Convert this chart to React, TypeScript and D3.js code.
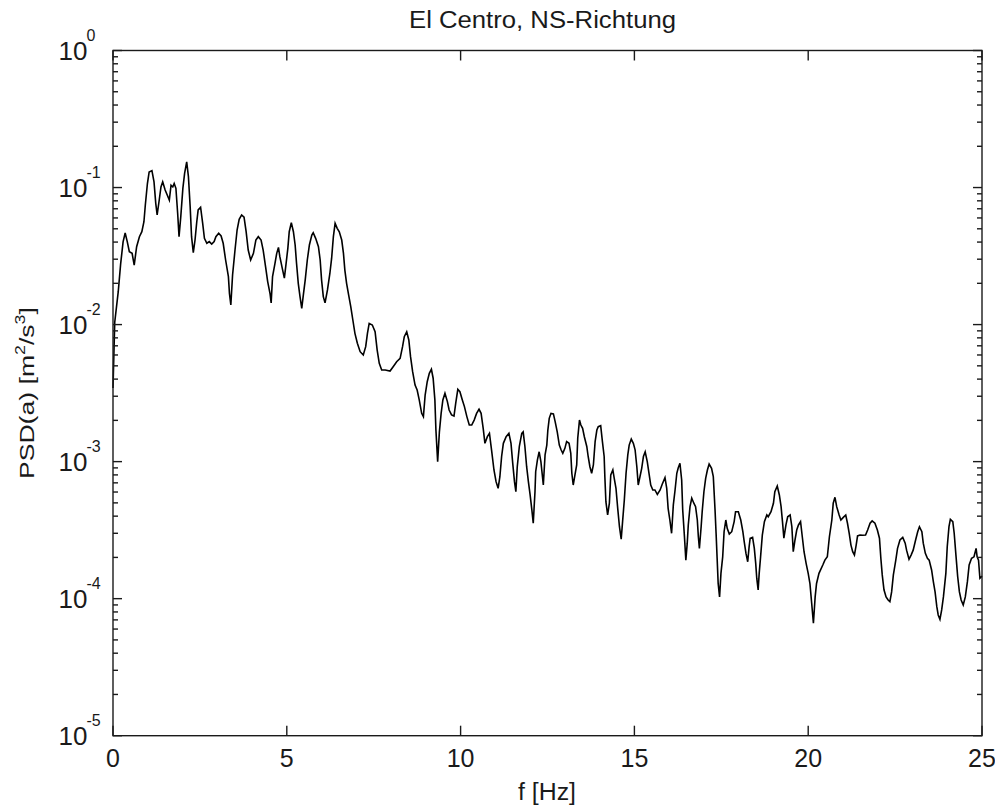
import React from 'react';
import * as d3 from 'd3';

const title = 'El Centro, NS-Richtung';
const xLabel = 'f [Hz]';
const xTicks = [0, 5, 10, 15, 20, 25];
const yDecadeExps = [-5, -4, -3, -2, -1, 0];
const minorMantissas = [2, 3, 4, 5, 6, 7, 8, 9];

const freq = [
  0, 0.05, 0.15, 0.22, 0.29, 0.35, 0.41, 0.47, 0.55, 0.61, 0.68, 0.76, 0.83, 0.89, 0.93, 0.99, 1.04, 1.12, 1.18, 1.23,
  1.27, 1.33, 1.38, 1.43, 1.50, 1.56, 1.62, 1.67, 1.72, 1.76, 1.81, 1.86, 1.90, 1.95, 2.01, 2.06, 2.12, 2.17, 2.22, 2.26,
  2.31, 2.36, 2.41, 2.45, 2.52, 2.58, 2.63, 2.70, 2.77, 2.84, 2.91, 2.96, 3.04, 3.11, 3.17, 3.24, 3.32, 3.35, 3.39, 3.44,
  3.51, 3.57, 3.63, 3.70, 3.77, 3.83, 3.89, 3.96, 4.04, 4.11, 4.18, 4.26, 4.32, 4.39, 4.45, 4.52, 4.55, 4.59, 4.66, 4.71,
  4.76, 4.80, 4.87, 4.93, 4.98, 5.03, 5.07, 5.13, 5.19, 5.24, 5.28, 5.33, 5.38, 5.43, 5.47, 5.53, 5.59, 5.65, 5.72, 5.76,
  5.83, 5.91, 5.96, 6.00, 6.05, 6.10, 6.17, 6.24, 6.29, 6.34, 6.39, 6.45, 6.51, 6.58, 6.63, 6.67, 6.72, 6.78, 6.84, 6.90,
  6.96, 7.03, 7.11, 7.20, 7.27, 7.32, 7.37, 7.46, 7.54, 7.60, 7.66, 7.73, 7.83, 7.97, 8.06, 8.16, 8.26, 8.33, 8.38, 8.45,
  8.51, 8.56, 8.62, 8.69, 8.75, 8.81, 8.88, 8.93, 8.98, 9.04, 9.10, 9.16, 9.21, 9.26, 9.29, 9.34, 9.39, 9.44, 9.49, 9.55,
  9.62, 9.67, 9.74, 9.81, 9.86, 9.92, 9.98, 10.05, 10.11, 10.18, 10.25, 10.32, 10.39, 10.46, 10.53, 10.59, 10.65, 10.70, 10.77, 10.83,
  10.89, 10.96, 11.02, 11.08, 11.13, 11.18, 11.23, 11.31, 11.39, 11.45, 11.50, 11.55, 11.59, 11.63, 11.69, 11.76, 11.80, 11.85, 11.90, 11.95,
  12.00, 12.05, 12.09, 12.14, 12.16, 12.21, 12.26, 12.31, 12.35, 12.38, 12.43, 12.48, 12.51, 12.55, 12.60, 12.67, 12.72, 12.78, 12.84, 12.89,
  12.94, 13.00, 13.05, 13.12, 13.17, 13.20, 13.24, 13.29, 13.34, 13.37, 13.42, 13.46, 13.51, 13.56, 13.63, 13.67, 13.72, 13.77, 13.82, 13.87,
  13.92, 13.96, 14.03, 14.08, 14.13, 14.15, 14.18, 14.23, 14.28, 14.32, 14.38, 14.42, 14.47, 14.52, 14.57, 14.62, 14.66, 14.71, 14.76, 14.81,
  14.85, 14.91, 14.97, 15.02, 15.07, 15.11, 15.16, 15.21, 15.26, 15.31, 15.37, 15.42, 15.47, 15.53, 15.59, 15.66, 15.74, 15.80, 15.88, 15.93,
  15.97, 16.02, 16.07, 16.12, 16.17, 16.22, 16.26, 16.31, 16.36, 16.39, 16.44, 16.48, 16.52, 16.55, 16.60, 16.65, 16.71, 16.76, 16.81, 16.84,
  16.87, 16.92, 16.95, 17.00, 17.05, 17.10, 17.15, 17.22, 17.27, 17.32, 17.35, 17.38, 17.41, 17.45, 17.49, 17.54, 17.58, 17.63, 17.67, 17.73,
  17.80, 17.87, 17.91, 17.99, 18.06, 18.12, 18.16, 18.21, 18.26, 18.30, 18.33, 18.40, 18.45, 18.49, 18.52, 18.56, 18.59, 18.63, 18.68, 18.74,
  18.81, 18.85, 18.93, 19.00, 19.04, 19.11, 19.17, 19.22, 19.26, 19.30, 19.36, 19.41, 19.48, 19.53, 19.57, 19.62, 19.67, 19.72, 19.78, 19.83,
  19.88, 19.94, 20.00, 20.05, 20.10, 20.15, 20.20, 20.24, 20.31, 20.42, 20.48, 20.55, 20.61, 20.68, 20.72, 20.77, 20.82, 20.89, 20.94, 21.01,
  21.08, 21.13, 21.18, 21.23, 21.28, 21.33, 21.38, 21.42, 21.49, 21.57, 21.65, 21.71, 21.78, 21.84, 21.92, 21.99, 22.05, 22.09, 22.13, 22.18,
  22.24, 22.30, 22.35, 22.40, 22.45, 22.52, 22.57, 22.64, 22.72, 22.79, 22.83, 22.90, 22.96, 23.02, 23.09, 23.15, 23.20, 23.27, 23.31, 23.37,
  23.43, 23.48, 23.55, 23.60, 23.65, 23.70, 23.74, 23.79, 23.84, 23.89, 23.96, 24.00, 24.05, 24.09, 24.16, 24.20, 24.25, 24.30, 24.35, 24.40,
  24.46, 24.52, 24.58, 24.63, 24.70, 24.77, 24.83, 24.86, 24.90, 24.94, 25.00,
];

const psd = [
  3.44e-3, 1.04e-2, 1.73e-2, 2.77e-2, 4.01e-2, 4.66e-2, 4.03e-2, 3.40e-2, 3.31e-2, 2.72e-2, 3.70e-2, 4.38e-2, 4.76e-2, 5.63e-2, 7.46e-2, 0.107, 0.130, 0.133, 0.110, 7.67e-2,
  6.31e-2, 8.11e-2, 0.101, 0.110, 9.6e-2, 8.82e-2, 8.11e-2, 0.104, 0.101, 0.107, 9.87e-2, 6.49e-2, 4.38e-2, 6.13e-2, 9.87e-2, 0.127, 0.154, 0.120, 7.25e-2, 4.38e-2,
  3.35e-2, 4.14e-2, 5.63e-2, 6.86e-2, 7.18e-2, 5.48e-2, 4.26e-2, 3.92e-2, 4.03e-2, 3.87e-2, 4.03e-2, 4.38e-2, 4.64e-2, 4.43e-2, 3.92e-2, 2.96e-2, 2.24e-2, 1.69e-2, 1.39e-2, 2.30e-2,
  3.50e-2, 4.90e-2, 5.87e-2, 6.31e-2, 6.07e-2, 4.76e-2, 3.50e-2, 2.96e-2, 3.31e-2, 4.14e-2, 4.38e-2, 4.14e-2, 3.50e-2, 2.64e-2, 2.06e-2, 1.67e-2, 1.44e-2, 2.24e-2, 2.80e-2, 3.31e-2,
  3.66e-2, 3.13e-2, 2.57e-2, 2.18e-2, 2.80e-2, 3.60e-2, 4.76e-2, 5.54e-2, 4.76e-2, 3.81e-2, 2.80e-2, 2.00e-2, 1.60e-2, 1.31e-2, 1.60e-2, 2.12e-2, 2.96e-2, 3.81e-2, 4.50e-2, 4.68e-2,
  4.26e-2, 3.70e-2, 2.96e-2, 2.12e-2, 1.60e-2, 1.44e-2, 1.79e-2, 2.37e-2, 3.05e-2, 4.38e-2, 5.48e-2, 5.04e-2, 4.76e-2, 4.14e-2, 3.31e-2, 2.50e-2, 2.00e-2, 1.64e-2, 1.35e-2, 1.08e-2,
  8.63e-3, 7.30e-3, 6.34e-3, 6.00e-3, 6.90e-3, 8.63e-3, 1.02e-2, 9.93e-3, 8.87e-3, 6.52e-3, 5.22e-3, 4.66e-3, 4.66e-3, 4.58e-3, 4.93e-3, 5.36e-3, 5.67e-3, 6.90e-3, 8.16e-3, 8.87e-3,
  7.72e-3, 5.83e-3, 4.53e-3, 3.62e-3, 3.33e-3, 2.82e-3, 2.25e-3, 2.13e-3, 3.06e-3, 3.83e-3, 4.41e-3, 4.72e-3, 4.06e-3, 2.82e-3, 1.70e-3, 1.00e-3, 1.65e-3, 2.25e-3, 2.82e-3, 3.15e-3,
  2.74e-3, 2.38e-3, 2.19e-3, 2.15e-3, 2.67e-3, 3.37e-3, 3.24e-3, 2.82e-3, 2.52e-3, 2.13e-3, 1.85e-3, 1.85e-3, 2.01e-3, 2.25e-3, 2.41e-3, 2.25e-3, 1.75e-3, 1.36e-3, 1.52e-3, 1.61e-3,
  1.22e-3, 8.69e-4, 7.14e-4, 6.39e-4, 7.76e-4, 1.09e-3, 1.36e-3, 1.52e-3, 1.61e-3, 1.36e-3, 9.72e-4, 7.14e-4, 6.03e-4, 9.18e-4, 1.29e-3, 1.61e-3, 1.65e-3, 1.29e-3, 9.18e-4, 7.14e-4,
  5.71e-4, 4.44e-4, 3.55e-4, 6.03e-4, 8.44e-4, 1.03e-3, 1.18e-3, 1.00e-3, 7.99e-4, 6.75e-4, 1.12e-3, 1.32e-3, 1.70e-3, 2.07e-3, 2.25e-3, 2.23e-3, 1.96e-3, 1.65e-3, 1.32e-3, 1.22e-3,
  1.15e-3, 1.25e-3, 1.40e-3, 1.36e-3, 1.15e-3, 8.22e-4, 6.75e-4, 7.99e-4, 9.45e-4, 1.48e-3, 2.01e-3, 1.85e-3, 1.75e-3, 1.52e-3, 1.29e-3, 1.09e-3, 9.18e-4, 8.22e-4, 9.45e-4, 1.40e-3,
  1.70e-3, 1.80e-3, 1.83e-3, 1.40e-3, 1.09e-3, 7.76e-4, 5.10e-4, 4.08e-4, 4.97e-4, 7.99e-4, 8.69e-4, 7.55e-4, 6.39e-4, 4.56e-4, 3.35e-4, 2.72e-4, 3.65e-4, 5.25e-4, 8.22e-4, 1.12e-3,
  1.32e-3, 1.46e-3, 1.36e-3, 1.22e-3, 9.18e-4, 6.75e-4, 7.76e-4, 8.94e-4, 1.09e-3, 1.18e-3, 1.00e-3, 8.22e-4, 6.75e-4, 6.21e-4, 6.21e-4, 5.77e-4, 6.21e-4, 6.83e-4, 7.63e-4, 6.39e-4,
  4.56e-4, 3.75e-4, 3.00e-4, 4.83e-4, 6.21e-4, 8.22e-4, 8.98e-4, 9.72e-4, 7.34e-4, 4.44e-4, 2.83e-4, 1.91e-4, 2.54e-4, 3.45e-4, 4.69e-4, 5.40e-4, 4.97e-4, 4.69e-4, 3.75e-4, 2.83e-4,
  2.33e-4, 3.35e-4, 4.31e-4, 6.03e-4, 7.55e-4, 8.69e-4, 9.61e-4, 8.94e-4, 7.76e-4, 4.44e-4, 3.00e-4, 1.97e-4, 1.29e-4, 1.03e-4, 1.53e-4, 2.02e-4, 3.08e-4, 3.75e-4, 3.26e-4, 2.96e-4,
  3.08e-4, 3.65e-4, 4.31e-4, 4.31e-4, 3.75e-4, 3.08e-4, 2.60e-4, 2.14e-4, 1.86e-4, 2.39e-4, 2.76e-4, 2.80e-4, 2.33e-4, 1.81e-4, 1.41e-4, 1.16e-4, 1.53e-4, 2.02e-4, 2.91e-4, 3.65e-4,
  4.08e-4, 3.96e-4, 4.31e-4, 4.97e-4, 6.03e-4, 6.64e-4, 5.71e-4, 4.69e-4, 3.65e-4, 2.76e-4, 3.45e-4, 3.96e-4, 4.08e-4, 3.35e-4, 2.20e-4, 2.68e-4, 3.17e-4, 3.45e-4, 3.65e-4, 2.83e-4,
  2.20e-4, 1.81e-4, 1.53e-4, 1.29e-4, 9.25e-5, 6.61e-5, 1.03e-4, 1.29e-4, 1.53e-4, 1.76e-4, 1.91e-4, 2.02e-4, 2.83e-4, 3.75e-4, 4.97e-4, 5.49e-4, 4.69e-4, 4.08e-4, 3.75e-4, 3.92e-4,
  4.08e-4, 3.55e-4, 3.00e-4, 2.46e-4, 2.20e-4, 2.08e-4, 2.46e-4, 2.87e-4, 2.91e-4, 2.90e-4, 2.91e-4, 3.17e-4, 3.55e-4, 3.69e-4, 3.55e-4, 3.17e-4, 2.76e-4, 1.97e-4, 1.49e-4, 1.16e-4,
  1.03e-4, 9.78e-5, 9.50e-5, 1.12e-4, 1.49e-4, 1.91e-4, 2.33e-4, 2.68e-4, 2.80e-4, 2.54e-4, 2.26e-4, 1.94e-4, 2.08e-4, 2.26e-4, 2.68e-4, 3.08e-4, 3.35e-4, 3.08e-4, 2.54e-4, 2.14e-4,
  1.97e-4, 1.91e-4, 1.62e-4, 1.33e-4, 1.12e-4, 8.74e-5, 7.60e-5, 7.07e-5, 8.27e-5, 1.03e-4, 1.53e-4, 2.39e-4, 3.35e-4, 3.79e-4, 3.65e-4, 3.00e-4, 2.08e-4, 1.45e-4, 1.12e-4, 9.78e-5,
  8.99e-5, 1.03e-4, 1.33e-4, 1.76e-4, 1.97e-4, 2.02e-4, 2.33e-4, 2.02e-4, 1.91e-4, 1.41e-4, 1.46e-4,
];

const FONT = '"Liberation Sans", Arial, Helvetica, sans-serif';
const INK = '#1a1a1a';

export default function App() {
  const W = 995;
  const H = 805;
  const left = 113;
  const right = 982;
  const top = 50.5;
  const bottom = 735.7;

  const x = d3.scaleLinear().domain([0, 25]).range([left, right]);
  const y = d3.scaleLog().domain([1e-5, 1]).range([bottom, top]);

  const n = Math.min(freq.length, psd.length);
  const data = d3.range(n).map((i) => ({ f: freq[i], p: psd[i] }));
  const line = d3
    .line<{ f: number; p: number }>()
    .x((d) => x(d.f))
    .y((d) => y(d.p));

  const majorY = yDecadeExps.map((e) => Math.pow(10, e));
  const minorY: number[] = [];
  yDecadeExps.slice(0, -1).forEach((e) => {
    minorMantissas.forEach((m) => minorY.push(m * Math.pow(10, e)));
  });

  const majLenX = 10;
  const majLenY = 9;
  const minLen = 5;

  return (
    <svg
      width={W}
      height={H}
      style={{ position: 'absolute', left: 0, top: 0, background: '#ffffff' }}
      fontFamily={FONT}
    >
      <rect x={0} y={0} width={W} height={H} fill="#ffffff" />

      {/* data line */}
      <path d={line(data) || ''} fill="none" stroke="#000" strokeWidth={1.6} strokeLinejoin="miter" />

      {/* frame */}
      <rect x={left} y={top} width={right - left} height={bottom - top} fill="none" stroke={INK} strokeWidth={1.4} />

      {/* x ticks */}
      {xTicks.map((t) => (
        <g key={'xt' + t}>
          <line x1={x(t)} x2={x(t)} y1={bottom} y2={bottom - majLenX} stroke={INK} strokeWidth={1.4} />
          <line x1={x(t)} x2={x(t)} y1={top} y2={top + majLenX} stroke={INK} strokeWidth={1.4} />
          <text x={x(t)} y={767} textAnchor="middle" fontSize={25} fill={INK}>
            {t}
          </text>
        </g>
      ))}

      {/* y major ticks + labels */}
      {majorY.map((v, i) => (
        <g key={'ym' + i}>
          <line x1={left} x2={left + majLenY} y1={y(v)} y2={y(v)} stroke={INK} strokeWidth={1.4} />
          <line x1={right} x2={right - majLenY} y1={y(v)} y2={y(v)} stroke={INK} strokeWidth={1.4} />
          <text x={58.5} y={y(v) + 9} fontSize={26} fill={INK}>
            10
          </text>
          <text x={86.5} y={y(v) - 9.5} fontSize={16} fill={INK}>
            {String(yDecadeExps[i])}
          </text>
        </g>
      ))}

      {/* y minor ticks */}
      {minorY.map((v, i) => (
        <g key={'yn' + i}>
          <line x1={left} x2={left + minLen} y1={y(v)} y2={y(v)} stroke={INK} strokeWidth={1.4} />
          <line x1={right} x2={right - minLen} y1={y(v)} y2={y(v)} stroke={INK} strokeWidth={1.4} />
        </g>
      ))}

      {/* title */}
      <text
        x={542.5}
        y={28.3}
        textAnchor="middle"
        fontSize={23}
        fill={INK}
        textLength={267}
        lengthAdjust="spacingAndGlyphs"
      >
        {title}
      </text>

      {/* x label */}
      <text x={547} y={800} textAnchor="middle" fontSize={23} fill={INK} textLength={58} lengthAdjust="spacingAndGlyphs">
        {xLabel}
      </text>

      {/* y label */}
      <text
        transform={`translate(33.5, ${(top + bottom) / 2}) rotate(-90)`}
        textAnchor="middle"
        fontSize={21}
        fill={INK}
        textLength={172}
        lengthAdjust="spacingAndGlyphs"
      >
        <tspan>PSD(a) [m</tspan>
        <tspan fontSize={14} dy={-9}>2</tspan>
        <tspan dy={9}>/s</tspan>
        <tspan fontSize={14} dy={-9}>3</tspan>
        <tspan dy={9}>]</tspan>
      </text>
    </svg>
  );
}
